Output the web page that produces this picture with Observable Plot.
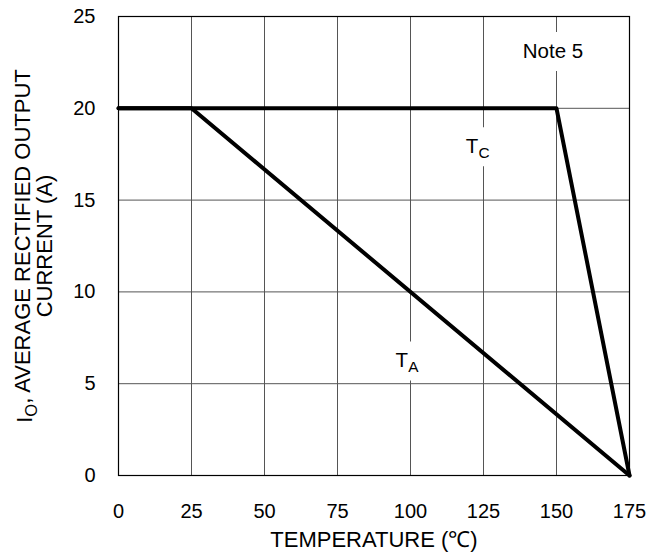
<!DOCTYPE html>
<html><head><meta charset="utf-8">
<script src="https://cdn.jsdelivr.net/npm/d3@7"></script>
<script src="https://cdn.jsdelivr.net/npm/@observablehq/plot@0.6"></script>
<style>body{margin:0;background:#fff;font-family:"Liberation Sans",Arial,sans-serif}</style>
</head><body><div id="chart"></div>
<script>
// Derating curves
const tcTemp = [0, 150, 175];
const tcCurrent = [20, 20, 0];
const taTemp = [0, 25, 175];
const taCurrent = [20, 20, 0];
const xTicks = [0, 25, 50, 75, 100, 125, 150, 175];
const yTicks = [0, 5, 10, 15, 20, 25];
const noteText = ["Note 5", "TC", "TA"];
const noteTemp = [148.8, 123, 98.8];
const noteCurrent = [23.1, 17.9, 6.24];

const tc = tcTemp.map((t, i) => ({t, i: tcCurrent[i]}));
const ta = taTemp.map((t, i) => ({t, i: taCurrent[i]}));
const notes = noteText.map((s, k) => ({s, t: noteTemp[k], i: noteCurrent[k]}));

const F = 20, FT = 22, FN = 20.5;
const plot = Plot.plot({
  width: 663, height: 554,
  marginLeft: 118, marginRight: 34, marginTop: 16, marginBottom: 79,
  style: {fontFamily: "'Liberation Sans', Arial, sans-serif", fontSize: F + "px", color: "#000", background: "#fff"},
  x: {domain: [0, 175], ticks: xTicks},
  y: {domain: [0, 25], ticks: yTicks},
  marks: [
    Plot.gridX(xTicks, {stroke: "#555", strokeOpacity: 1, strokeWidth: 1}),
    Plot.gridY(yTicks, {stroke: "#555", strokeOpacity: 1, strokeWidth: 1}),
    Plot.axisX({ticks: xTicks, tickSize: 0, tickPadding: 28, fontSize: F, label: null}),
    Plot.axisX({ticks: [], tickSize: 0, fontSize: FT, label: "TEMPERATURE (℃)", labelAnchor: "center", labelArrow: "none", labelOffset: 71}),
    Plot.axisY({ticks: yTicks, tickSize: 0, tickPadding: 23, fontSize: F, label: null}),
    Plot.dot(notes, {x: "t", y: "i", symbol: "square", r: 22, fill: "white", stroke: null}),
    Plot.text(notes, {x: "t", y: "i", text: "s", fontSize: FN, fill: "#000"}),
    Plot.line(tc, {x: "t", y: "i", stroke: "#000", strokeWidth: 4}),
    Plot.line(ta, {x: "t", y: "i", stroke: "#000", strokeWidth: 4}),
    Plot.frame({stroke: "#000", strokeWidth: 1.2}),
    Plot.text(["IO, AVERAGE RECTIFIED OUTPUT"], {frameAnchor: "left", textAnchor: "middle", rotate: -90, dx: -94, fontSize: FT}),
    Plot.text(["CURRENT (A)"], {frameAnchor: "left", textAnchor: "middle", rotate: -90, dx: -74, fontSize: FT})
  ]
});
document.getElementById("chart").appendChild(plot);

// subscripts
function sub(el, main, s, rest) {
  const t = d3.select(el);
  t.text(null);
  t.append("tspan").text(main);
  t.append("tspan").attr("dy", "0.3em").attr("font-size", "0.75em").text(s);
  if (rest) t.append("tspan").attr("dy", "-0.3em").text(rest);
}
d3.select(plot).selectAll("text").each(function() {
  const s = this.textContent;
  if (s === "TC") sub(this, "T", "C");
  else if (s === "TA") sub(this, "T", "A");
  else if (s.startsWith("IO,")) sub(this, "I", "O", s.slice(2));
});
</script></body></html>
